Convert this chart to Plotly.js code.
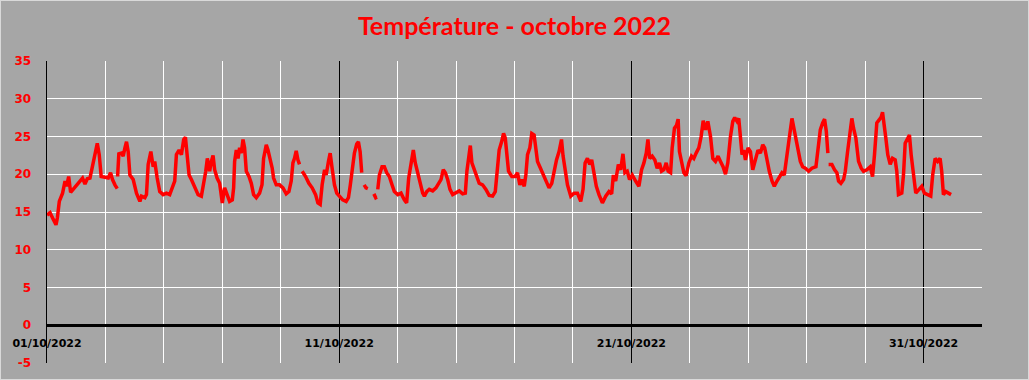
<!DOCTYPE html>
<html>
<head>
<meta charset="utf-8">
<script src="https://cdn.plot.ly/plotly-3.0.1.min.js"></script>
<style>
html,body{margin:0;padding:0;background:#A6A6A6;}
#wrap{position:relative;width:1029px;height:380px;}
#chart{width:1029px;height:380px;}
#frame{position:absolute;left:0;top:0;width:1027px;height:378px;border:1px solid #D9D9D9;pointer-events:none;}
</style>
</head>
<body>
<div id="wrap"><div id="chart"></div><div id="frame"></div></div>
<script>
// Hours since 01/10/2022 00:00, and temperature (°C); null = missing data
const hours = [
0,2.5,5.2,7.4,8.5,10.1,12.8,14.8,16.1,17.8,19.4,21.6,25.7,29.2,31.2,33.1,35.3,37.4,39.4,41.3,42.9,44.5,47.6,50.3,52.2,53.8,55.8,57.7,57.85,
58.0,59.0,61.2,62.6,64.0,65.3,66.7,68.1,70.8,73.5,76.3,77.6,80.4,81.7,83.1,85.3,87.2,88.5,90.5,92.6,95.4,98.1,100.8,103.0,104.9,
106.3,108.5,110.4,112.3,113.7,115.3,116.7,118.6,121.3,124.1,126.8,128.7,130.4,131.7,133.6,135.0,136.4,137.7,139.7,141.8,144.0,
145.9,147.9,150.0,152.2,153.3,154.1,155.5,156.9,158.2,159.6,161.0,162.3,163.7,165.9,167.8,169.7,171.9,174.6,176.6,177.9,180.1,
181.5,183.4,185.0,186.1,188.3,191.0,193.8,196.5,198.7,200.6,202.0,203.3,204.7,206.1,207.4,208.5,
209.6,212.4,215.1,217.8,220.6,222.5,224.4,226.0,228.0,229.3,231.2,232.6,234.2,236.1,238.0,240.2,242.9,245.7,247.6,249.0,250.6,
252.5,254.4,255.8,257.2,258.5,259.0,
260.5,262.0,263.5,264.5,
268.5,270.0,271.0,271.4,
271.7,273.0,275.2,277.1,279.0,281.2,283.4,285.3,288.1,290.8,293.5,295.4,297.1,299.0,300.9,302.5,304.5,308.6,310.0,311.9,314.0,
316.8,319.5,321.7,323.6,325.5,327.2,329.1,331.0,333.2,335.9,338.6,341.4,343.6,344.9,346.3,347.7,349.0,351.0,352.9,355.0,357.8,
360.5,363.2,366.0,368.2,370.1,371.4,373.4,375.0,376.4,377.5,379.1,381.8,384.6,386.5,388.4,390.0,392.0,393.3,394.7,396.6,398.2,
400.1,401.5,402.9,404.8,407.0,409.7,412.4,414.6,416.5,418.5,420.6,422.6,423.9,425.3,427.5,430.2,433.0,435.7,438.4,440.3,442.0,
443.9,445.8,447.4,449.3,451.2,453.4,456.2,458.9,461.6,463.8,465.2,467.1,469.3,471.2,473.1,474.7,476.6,478.5,480.7,483.5,486.2,
488.4,490.3,492.2,493.6,495.0,497.1,499.3,501.2,503.1,504.8,506.7,508.6,510.2,512.2,513.5,515.4,517.1,518.4,519.5,521.2,523.1,
525.0,527.2,529.4,531.3,533.2,535.4,537.3,539.0,540.9,542.8,545.0,546.9,549.1,551.2,553.2,555.3,557.3,559.2,561.4,563.3,564.9,
566.8,568.2,569.6,570.9,572.3,573.7,575.8,577.8,579.7,581.9,584.0,586.0,587.9,589.5,591.4,593.3,595.5,597.4,599.6,601.5,603.7,
605.6,607.8,609.7,611.9,613.8,615.5,617.4,618.8,620.7,622.9,625.6,628.3,631.6,633.3,635.2,637.1,638.7,640.1,641.4,641.7,
642.0,644.7,646.9,648.8,650.2,652.1,654.3,655.7,657.6,658.9,661.1,662.5,664.4,666.6,668.8,670.7,673.4,676.2,678.1,679.7,681.6,
683.5,685.2,686.3,687.6,689.0,690.6,692.6,694.5,696.7,698.0,699.4,702.1,703.5,704.9,706.8,708.4,709.8,711.7,713.6,716.3,718.5,
720.7,723.4,725.9,727.5,729.5,731.6,733.6,734.9,736.3,738.2,740.4,742.6
];
const temps = [
14.6,14.9,14.0,13.3,14.2,16.4,17.5,19.1,18.4,19.7,17.6,18.0,18.8,19.5,18.7,19.4,19.5,21.3,22.6,24.1,22.6,19.7,19.6,19.5,20.2,19.3,18.6,18.1,null,
19.7,22.7,22.8,22.4,23.5,24.3,23.0,19.9,19.3,17.5,16.4,17.1,16.9,17.3,21.3,23.0,21.0,21.7,19.5,17.7,17.3,17.5,17.3,18.2,19.1,
22.6,23.2,22.6,24.6,24.9,22.6,19.9,19.3,18.2,17.3,17.1,18.6,20.4,22.1,20.4,21.7,22.5,20.6,19.5,18.8,16.2,
18.2,17.3,16.4,16.6,18.2,21.7,23.2,22.1,23.5,22.8,24.6,23.5,20.4,19.7,18.8,17.3,16.9,17.5,18.6,22.1,23.9,
23.2,22.1,20.8,19.5,18.6,18.6,18.2,17.4,17.7,19.1,21.5,22.1,23.1,21.9,21.3,null,
20.4,19.7,18.8,18.2,17.3,16.2,16.0,18.6,20.6,19.9,21.7,22.8,20.8,18.6,17.5,17.1,16.6,16.4,16.9,18.4,20.4,
22.8,24.0,24.3,23.0,20.2,null,
18.6,18.2,18.1,null,
17.4,16.9,17.0,null,
18.0,19.9,21.0,21.0,20.2,19.7,18.6,17.7,17.3,17.5,16.6,16.2,19.5,21.5,23.2,21.5,20.2,17.5,17.1,17.7,18.0,
17.8,18.2,18.8,19.3,20.6,20.2,19.3,18.0,17.3,17.5,17.8,17.4,17.5,20.4,22.4,23.8,21.5,20.6,19.9,18.8,18.6,
18.0,17.2,17.1,17.7,20.8,23.2,24.3,25.4,24.8,23.0,20.4,19.7,19.7,20.2,18.6,19.3,18.4,19.9,22.6,23.5,25.4,
25.2,23.5,21.7,21.0,20.2,19.1,18.2,18.8,20.6,21.9,23.0,24.6,22.4,20.6,18.6,17.1,17.5,17.5,16.4,18.0,21.5,
22.1,21.3,21.9,20.4,18.4,17.3,16.2,17.1,17.7,17.4,19.9,19.1,21.3,20.6,22.7,20.2,20.4,19.3,19.9,19.1,18.4,
20.6,21.5,22.8,24.6,22.1,22.4,21.9,20.8,21.5,20.4,20.6,21.5,20.4,20.2,23.5,26.1,26.5,27.3,23.0,21.5,20.2,
19.8,21.5,22.4,22.1,22.8,23.5,25.0,27.1,25.9,27.0,25.0,22.1,21.7,22.4,21.7,21.0,20.0,21.5,25.0,27.0,27.5,
27.0,27.4,24.8,22.6,23.2,21.9,23.5,23.0,20.6,21.9,23.2,22.8,23.9,23.5,21.9,20.4,19.1,18.4,19.1,19.7,20.2,
19.9,23.0,24.8,27.4,25.9,24.3,23.2,21.7,21.0,20.8,20.4,20.8,21.0,23.0,25.9,26.8,27.3,25.7,22.8,null,
21.3,21.3,20.6,20.2,19.1,18.8,19.3,20.4,23.0,25.0,27.4,26.1,24.8,21.7,20.8,20.4,20.6,21.0,19.7,22.6,26.8,
27.2,27.6,28.2,26.8,24.8,22.6,21.3,22.1,21.9,20.4,17.3,17.5,19.9,24.1,24.6,25.2,22.6,20.4,17.5,18.0,18.4,
17.5,17.3,17.1,19.9,22.1,21.7,22.1,20.4,17.3,17.7,17.5,17.3
];
const startDate = '2022-10-01';
const endDate = '2022-11-02';
const yTicks = [-5,0,5,10,15,20,25,30,35];
const titleText = 'Température - octobre 2022';

const t0 = Date.UTC(2022, 9, 1);
const xs = hours.map(h => new Date(t0 + h * 3600000).toISOString().slice(0, 19).replace('T', ' '));

const trace = {
  x: xs, y: temps, type: 'scatter', mode: 'lines',
  line: {color: '#FF0000', width: 3.5}, connectgaps: false, hoverinfo: 'skip'
};

const layout = {
  width: 1029, height: 380,
  paper_bgcolor: '#A6A6A6', plot_bgcolor: '#A6A6A6',
  margin: {l: 47, r: 47, t: 61, b: 17},
  showlegend: false,
  title: {text: titleText, x: 0.5, xanchor: 'center', y: 0.93, yanchor: 'middle',
    font: {family: 'Lato', size: 25, color: '#FF0000', weight: 'bold'}},
  xaxis: {
    type: 'date', range: [startDate, endDate],
    tick0: startDate, dtick: 864000000, tickformat: '%d/%m/%Y',
    showgrid: true, gridcolor: '#000000', gridwidth: 1,
    minor: {tick0: startDate, dtick: 172800000, showgrid: true, gridcolor: '#FFFFFF', gridwidth: 1},
    anchor: 'free', position: 0.125,
    showline: true, linecolor: '#000000', linewidth: 3,
    ticks: 'outside', ticklen: 7, tickcolor: 'rgba(0,0,0,0)',
    tickfont: {family: 'DejaVu Sans', size: 11, color: '#000000', weight: 'bold'},
    zeroline: false, fixedrange: true
  },
  yaxis: {
    range: [-5, 35], tickmode: 'array', tickvals: yTicks, ticktext: yTicks.map(String),
    showgrid: true, gridcolor: '#FFFFFF', gridwidth: 1,
    showline: true, linecolor: '#000000', linewidth: 1.5,
    zeroline: false,
    ticks: 'outside', ticklen: 12, tickcolor: 'rgba(0,0,0,0)',
    tickfont: {family: 'DejaVu Sans', size: 12, color: '#FF0000', weight: 'bold'},
    fixedrange: true
  }
};

Plotly.newPlot('chart', [trace], layout, {displayModeBar: false, staticPlot: true});
</script>
</body>
</html>
